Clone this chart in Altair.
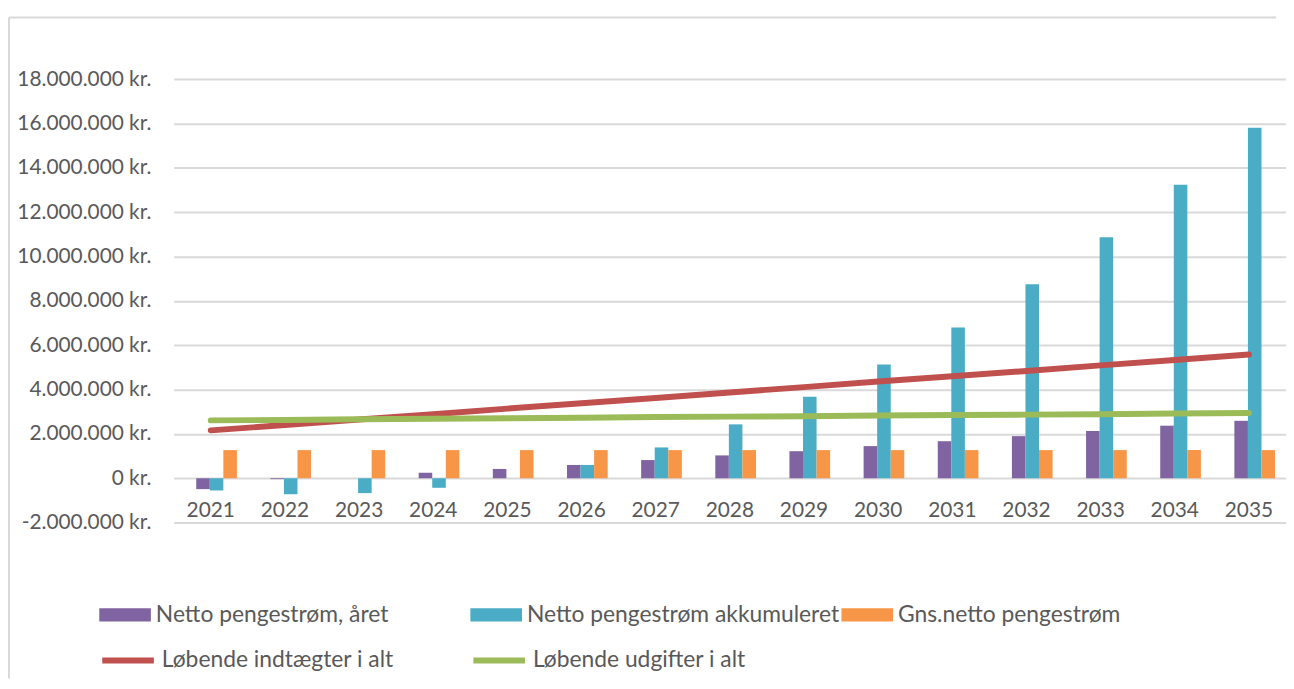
import altair as alt
import pandas as pd

years = [str(y) for y in range(2021, 2036)]

S1 = "Netto pengestrøm, året"
S2 = "Netto pengestrøm akkumuleret"
S3 = "Gns.netto pengestrøm"
L1 = "Løbende indtægter i alt"
L2 = "Løbende udgifter i alt"

netto_aaret = [-490000, -40000, 0, 250000, 420000, 600000, 820000, 1030000,
               1220000, 1450000, 1670000, 1900000, 2130000, 2370000, 2590000]
netto_akk = [-550000, -720000, -670000, -430000, 0, 600000, 1390000, 2430000,
             3680000, 5130000, 6800000, 8750000, 10870000, 13230000, 15810000]
gns_netto = [1270000, 1270000, 1270000, 1270000, 1270000, 1270000, 1270000, 1270000,
             1270000, 1270000, 1270000, 1270000, 1270000, 1270000, 1270000]
indtaegter = [2160000, 2400000, 2650000, 2890000, 3140000, 3380000, 3620000, 3870000,
              4110000, 4360000, 4600000, 4840000, 5090000, 5330000, 5580000]
udgifter = [2610000, 2630000, 2660000, 2680000, 2710000, 2730000, 2760000, 2780000,
            2800000, 2830000, 2850000, 2870000, 2890000, 2920000, 2940000]

y_ticks = [-2000000, 0, 2000000, 4000000, 6000000, 8000000, 10000000,
           12000000, 14000000, 16000000, 18000000]

BAR_COLORS = {S1: "#8064A2", S2: "#4BACC6", S3: "#F79646"}
LINE_COLORS = {L1: "#C0504D", L2: "#9BBB59"}

FONT = "Lato"
TXT = "#595959"
W = 1111
H = 447
RECT_PATH = "M-1,-0.26L1,-0.26L1,0.26L-1,0.26Z"


def frame(name, vals):
    return pd.DataFrame({"year": years, "series": [name] * len(years), "value": vals})


x_enc = alt.X(
    "year:N",
    sort=years,
    scale=alt.Scale(range=[0, 1121], paddingInner=0, paddingOuter=0),
    axis=alt.Axis(
        title=None, orient="bottom", offset=-45, domain=False, ticks=False, tickSize=0,
        labelFont=FONT, labelFontSize=21, labelColor=TXT, labelPadding=39,
        labelBaseline="alphabetic", labelAngle=0, grid=False,
    ),
)

y_enc = alt.Y(
    "value:Q",
    scale=alt.Scale(domain=[-2000000, 18000000], nice=False, zero=False),
    axis=alt.Axis(
        title=None, values=y_ticks, domain=False, ticks=False, tickSize=0,
        labelFont=FONT, labelFontSize=21, labelColor=TXT, labelPadding=23,
        gridColor="#D9D9D9", gridWidth=2,
        labelExpr="(datum.value < 0 ? '-' : '') + replace(replace(replace(format(abs(datum.value), ','), ',', '.'), ',', '.'), ',', '.') + ' kr.'",
    ),
)

xoff = alt.XOffset(
    "series:N",
    scale=alt.Scale(domain=[S1, S2, S3], range=[22.7, 63.7], paddingInner=0, paddingOuter=0),
)


def bar_layer(name, vals, lx, ly):
    return alt.Chart(frame(name, vals)).mark_bar().encode(
        x=x_enc,
        xOffset=xoff,
        y=y_enc,
        fill=alt.Fill(
            "series:N",
            scale=alt.Scale(domain=[name], range=[BAR_COLORS[name]]),
            legend=alt.Legend(
                title=None, orient="none", legendX=lx, legendY=ly, padding=0,
                symbolType=RECT_PATH, symbolSize=2704, symbolStrokeWidth=0,
                symbolOpacity=1,
                labelFont=FONT, labelFontSize=23, labelColor=TXT, labelOffset=5,
                labelLimit=500,
            ),
        ),
    )


def line_layer(name, vals, lx, ly):
    return alt.Chart(frame(name, vals)).mark_line(strokeWidth=6, strokeCap="round").encode(
        x=x_enc,
        y=y_enc,
        stroke=alt.Stroke(
            "series:N",
            scale=alt.Scale(domain=[name], range=[LINE_COLORS[name]]),
            legend=alt.Legend(
                title=None, orient="none", legendX=lx, legendY=ly, padding=0,
                symbolType="stroke", symbolSize=2704, symbolStrokeWidth=6,
                labelFont=FONT, labelFontSize=23, labelColor=TXT, labelOffset=5,
                labelLimit=500,
            ),
        ),
    )


one = pd.DataFrame({"k": [0]})
border_left = alt.Chart(one).mark_rule(color="#D9D9D9", strokeWidth=2).encode(
    x=alt.value(-166), y=alt.value(-62), y2=alt.value(604)
)
border_top = alt.Chart(one).mark_rule(color="#D9D9D9", strokeWidth=2).encode(
    x=alt.value(-166), x2=alt.value(W), y=alt.value(-62)
)

chart = alt.layer(
    bar_layer(S1, netto_aaret, -75, 514),
    bar_layer(S2, netto_akk, 299, 514),
    bar_layer(S3, gns_netto, 673, 514),
    line_layer(L1, indtaegter, -75, 557),
    line_layer(L2, udgifter, 299, 557),
    border_left,
    border_top,
).resolve_scale(
    fill="independent", stroke="independent"
).resolve_legend(
    fill="independent", stroke="independent"
).properties(
    width=W, height=H,
    padding={"left": 0, "top": 6, "right": 0, "bottom": 0},
).configure_view(stroke=None)

chart.save("out.html", embed_options={"renderer": "svg", "actions": False})
